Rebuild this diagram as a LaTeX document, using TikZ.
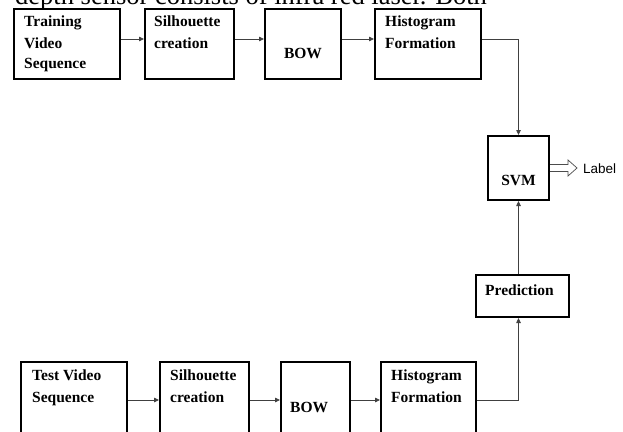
\documentclass[tikz,border=0pt]{standalone}
\usepackage{fontspec}
\setmainfont{Liberation Serif}
\newfontfamily\labelfont{Liberation Sans}
\usetikzlibrary{arrows.meta}
\tikzset{
  box/.style={draw=black, line width=2pt, inner sep=0pt},
  txt/.style={inner sep=0pt, font=\fontsize{15.5}{18}\selectfont\bfseries},
  arr/.style={draw=black!75, line width=0.8pt, -{Triangle[length=5pt,width=4.5pt]}},
  conn/.style={draw=black!75, line width=0.8pt}
}
\begin{document}
\begin{tikzpicture}[x=1pt,y=-1pt]
\useasboundingbox (0,0) rectangle (623,431);
\clip (0,0) rectangle (623,431);
% page text cut at top
\node[inner sep=0pt, anchor=base west, font=\fontsize{26.5}{30}\selectfont] (pagetext) at (15,5) {depth sensor consists of infra red laser. Both};
% top row boxes
\node[box, minimum width=106, minimum height=70] (tr) at (67,44) {};
\node[box, minimum width=89, minimum height=70] (ts) at (189.5,44) {};
\node[box, minimum width=76, minimum height=70] (tb) at (303,44) {};
\node[box, minimum width=106, minimum height=70] (th) at (428,44) {};
\node[box, minimum width=61, minimum height=64] (svm) at (518.5,168) {};
\node[box, minimum width=93, minimum height=42] (pred) at (522.5,296) {};
% bottom row boxes
\node[box, minimum width=106, minimum height=84] (bt) at (74,404) {};
\node[box, minimum width=89, minimum height=84] (bs) at (204.5,404) {};
\node[box, minimum width=69, minimum height=84] (bb) at (315.5,404) {};
\node[box, minimum width=95, minimum height=84] (bh) at (428.5,404) {};
% texts top
\node[txt, anchor=base west] (tr1) at (24,27) {Training};
\node[txt, anchor=base west] (tr2) at (24,48) {Video};
\node[txt, anchor=base west] (tr3) at (24,68) {Sequence};
\node[txt, anchor=base west] (ts1) at (154,27) {Silhouette};
\node[txt, anchor=base west] (ts2) at (154,48) {creation};
\node[txt, anchor=base] (tb1) at (303,58) {BOW};
\node[txt, anchor=base west] (th1) at (385,27) {Histogram};
\node[txt, anchor=base west] (th2) at (385,48) {Formation};
\node[txt, anchor=base] (svm1) at (518.5,185) {SVM};
\node[txt, anchor=base west] (pred1) at (485,295) {Prediction};
\node[inner sep=0pt, anchor=west, font=\labelfont\fontsize{13.5}{16}\selectfont] (lab) at (583,169) {Label};
% texts bottom
\node[txt, anchor=base west] (bt1) at (32,380) {Test Video};
\node[txt, anchor=base west] (bt2) at (32,402) {Sequence};
\node[txt, anchor=base west] (bs1) at (170,380) {Silhouette};
\node[txt, anchor=base west] (bs2) at (170,402) {creation};
\node[txt, anchor=base west] (bb1) at (290,412) {BOW};
\node[txt, anchor=base west] (bh1) at (391,380) {Histogram};
\node[txt, anchor=base west] (bh2) at (391,402) {Formation};
% connectors top
\coordinate (ty) at (0,39);
\draw[arr] (tr.east |- ty) -- (ts.west |- ty);
\draw[arr] (ts.east |- ty) -- (tb.west |- ty);
\draw[arr] (tb.east |- ty) -- (th.west |- ty);
\draw[arr] (th.east |- ty) -| (svm.north);
% connectors bottom
\coordinate (by) at (0,400);
\draw[arr] (bt.east |- by) -- (bs.west |- by);
\draw[arr] (bs.east |- by) -- (bb.west |- by);
\draw[arr] (bb.east |- by) -- (bh.west |- by);
\draw[arr] (bh.east |- by) -| (svm.south |- pred.south);
\draw[arr] (svm.south |- pred.north) -- (svm.south);
% hollow output arrow
\draw[draw=black!70, line width=0.7pt, fill=white]
  (svm.east) ++(0,-3.5) -- ++(18,0) -- ++(0,-4.5) -- ++(9,8) -- ++(-9,8) -- ++(0,-4.5) -- ++(-18,0);
\end{tikzpicture}
\end{document}
